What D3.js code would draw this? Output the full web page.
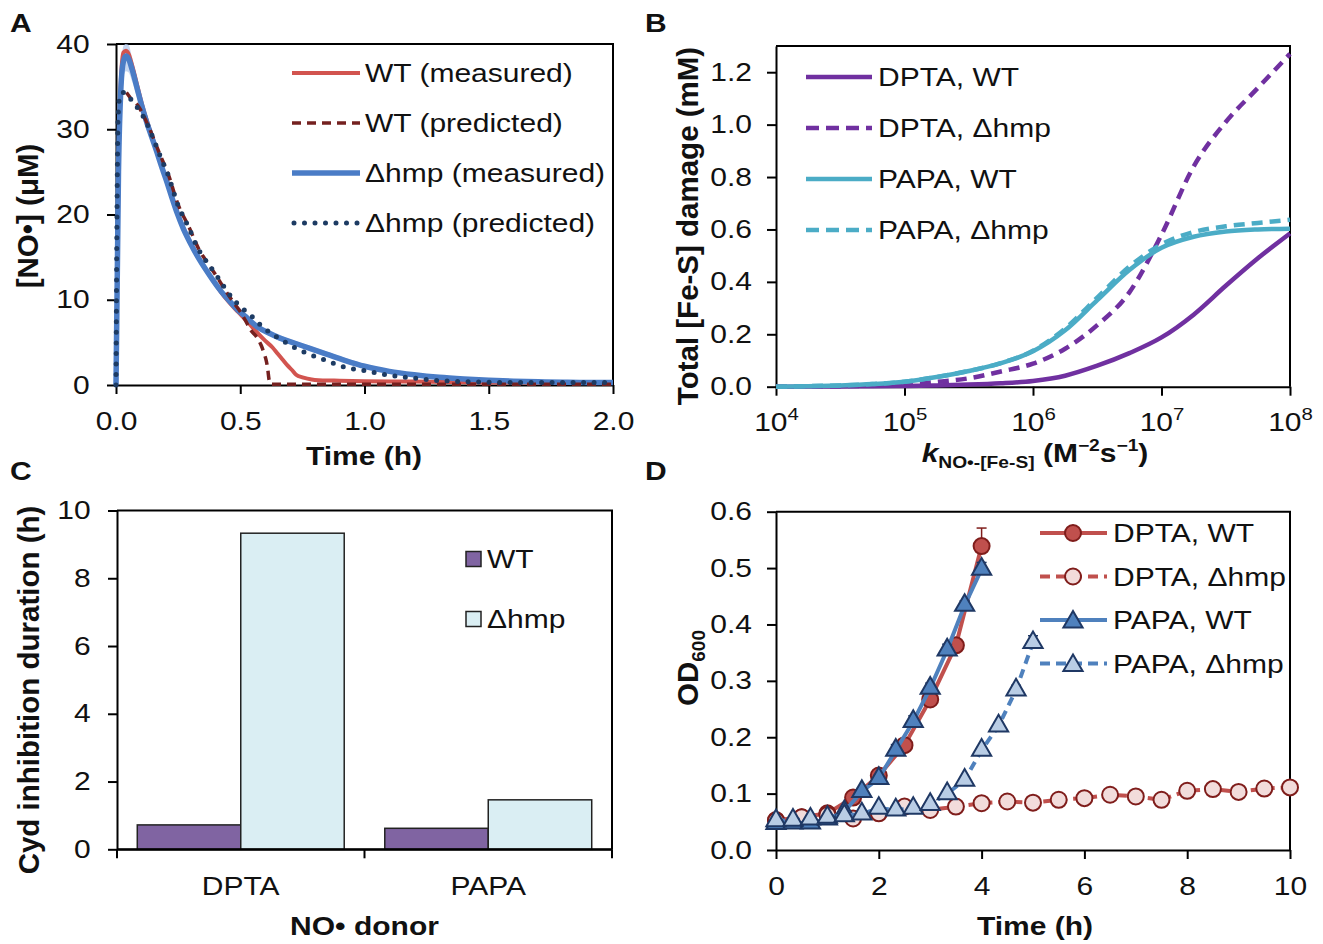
<!DOCTYPE html>
<html><head><meta charset="utf-8">
<script src="https://cdn.jsdelivr.net/npm/d3@7"></script>
<style>body{margin:0;background:#fff} svg{display:block} text{font-family:"Liberation Sans",Arial,Helvetica,sans-serif;}</style>
</head><body><svg id="chart" width="1323" height="944"></svg>
<script>
// ---------- Panel A data ----------
const legendA = ["WT (measured)", "WT (predicted)", "\u0394hmp (measured)", "\u0394hmp (predicted)"];
const ticksAx = [0, 0.5, 1, 1.5, 2];
const ticksAy = [0, 10, 20, 30, 40];
const wtMeasT = [0,0.01,0.02,0.03,0.04,0.05,0.065,0.085,0.105,0.126,0.146,0.166,0.186,0.206,0.226,0.247,0.27,0.3,0.33,0.36,0.39,0.42,0.455,0.49,0.53,0.56,0.6,0.63,0.65,0.67,0.69,0.71,0.725,0.75,0.77,0.8,0.9,1.0,1.2,1.5,2.0];
const wtMeasV = [0,25,36,39,39.2,38.9,37.5,35.2,32.9,30.8,29.1,27.3,25.5,23.8,22,20.2,18.5,16.7,15.1,13.6,12.3,11.0,9.7,8.6,7.4,6.4,5.2,4.4,3.7,3.0,2.3,1.7,1.2,0.9,0.75,0.6,0.5,0.45,0.4,0.3,0.25];
const hmpMeasT = [0,0.01,0.02,0.03,0.04,0.05,0.065,0.085,0.105,0.126,0.146,0.166,0.186,0.206,0.226,0.247,0.27,0.3,0.33,0.36,0.39,0.42,0.455,0.49,0.53,0.57,0.615,0.66,0.72,0.78,0.85,0.92,1.0,1.1,1.2,1.3,1.4,1.5,1.6,1.7,1.8,1.9,2.0];
const hmpMeasV = [0,25,35,38,38.6,38.3,37,34.8,32.6,30.6,28.9,27.2,25.4,23.7,21.9,20.1,18.4,16.6,15,13.6,12.3,11.1,9.9,8.8,7.8,6.8,6.1,5.5,4.9,4.3,3.6,2.9,2.2,1.6,1.2,0.9,0.7,0.55,0.45,0.38,0.33,0.3,0.3];
const hmpMeasErr = [0,1,1.6,1.8,1.8,1.6,1.4,1.1,0.8,0.6,0.5,0.4,0.35,0.3,0.3,0.3,0.3,0.3,0.3,0.3,0.3,0.3,0.3,0.3,0.3,0.3,0.3,0.3,0.3,0.3,0.3,0.3,0.3,0.2,0.2,0.2,0.2,0.2,0.2,0.2,0.2,0.2,0.2];
const wtPredT = [0.042,0.06,0.085,0.133,0.173,0.213,0.247,0.294,0.334,0.374,0.408,0.44,0.47,0.5,0.52,0.542,0.569,0.585,0.596,0.605,0.61,0.616,0.622,0.7,1.0,1.5,2.0];
const wtPredV = [34.3,33.6,32.9,30.2,27.3,24.5,21.4,18.5,15.9,14.1,12.6,11.1,9.8,8.6,7.6,6.45,5.5,4.6,3.7,2.8,2.0,0.6,0.1,0.1,0.1,0.1,0.1];
const hmpPredT = [0,0.004,0.008,0.015,0.03,0.042,0.06,0.079,0.106,0.133,0.153,0.173,0.193,0.213,0.23,0.247,0.27,0.294,0.314,0.334,0.354,0.374,0.408,0.44,0.468,0.509,0.549,0.59,0.632,0.677,0.724,0.77,0.825,0.878,0.93,0.986,1.04,1.09,1.147,1.2,1.26,1.31,1.36,1.45,1.6,2.0];
const hmpPredV = [0,20,31,33.8,34.3,34.2,33.5,32.8,31.7,30.1,28.7,27.2,25.8,24.4,22.8,21.3,19.8,18.4,17.0,15.8,14.9,14.1,12.7,11.3,10.2,9.0,8.0,6.8,5.9,5.1,4.3,3.7,3.1,2.5,2.0,1.76,1.45,1.2,0.98,0.8,0.6,0.5,0.42,0.35,0.3,0.3];

// ---------- Panel B data ----------
const legendB = ["DPTA, WT", "DPTA, \u0394hmp", "PAPA, WT", "PAPA, \u0394hmp"];
const ticksBx = [4, 5, 6, 7, 8];           // exponents of 10
const ticksBy = [0, 0.2, 0.4, 0.6, 0.8, 1.0, 1.2];
const logK = [4,4.25,4.5,4.75,5,5.25,5.5,5.75,6,6.25,6.5,6.75,7,7.25,7.5,7.75,8];
const dptaWtDamage  = [0,0.0005,0.001,0.002,0.003,0.005,0.008,0.013,0.022,0.042,0.08,0.128,0.188,0.275,0.385,0.49,0.585];
const dptaHmpDamage = [0,0.001,0.002,0.004,0.008,0.018,0.032,0.058,0.088,0.145,0.235,0.36,0.58,0.84,1.01,1.14,1.27];
const papaWtDamage  = [0,0.002,0.005,0.01,0.019,0.037,0.06,0.09,0.135,0.215,0.33,0.445,0.53,0.572,0.592,0.6,0.603];
const papaHmpDamage = [0,0.002,0.005,0.01,0.019,0.037,0.06,0.09,0.137,0.222,0.34,0.458,0.543,0.59,0.612,0.625,0.637];

// ---------- Panel C data ----------
const donors = ["DPTA", "PAPA"];
const strains = ["WT", "\u0394hmp"];
const wtDuration = [0.72, 0.62];
const hmpDuration = [9.33, 1.46];
const ticksCy = [0, 2, 4, 6, 8, 10];

// ---------- Panel D data ----------
const legendD = ["DPTA, WT", "DPTA, \u0394hmp", "PAPA, WT", "PAPA, \u0394hmp"];
const ticksDx = [0, 2, 4, 6, 8, 10];
const ticksDy = [0, 0.1, 0.2, 0.3, 0.4, 0.5, 0.6];
const dptaWtT = [0,0.5,1,1.5,2,2.5,3,3.5,4];
const dptaWtOD = [0.053,0.058,0.065,0.093,0.132,0.186,0.267,0.363,0.539];
const dptaWtErr = [0,0,0,0,0.004,0.005,0.004,0.006,0.032];
const dptaHmpT = [0,0.5,1,1.5,2,2.5,3,3.5,4,4.5,5,5.5,6,6.5,7,7.5,8,8.5,9,9.5,10];
const dptaHmpOD = [0.052,0.058,0.062,0.056,0.065,0.077,0.071,0.077,0.083,0.086,0.084,0.089,0.092,0.098,0.095,0.089,0.105,0.108,0.103,0.109,0.111];
const papaWtT = [0,0.33,0.67,1,1.33,1.67,2,2.33,2.67,3,3.33,3.67,4];
const papaWtOD = [0.047,0.048,0.048,0.055,0.068,0.104,0.127,0.177,0.228,0.287,0.355,0.434,0.498];
const papaWtErr = [0,0,0,0,0.004,0.006,0.006,0.01,0.01,0.009,0.01,0.008,0.012];
const papaHmpT = [0,0.33,0.67,1,1.33,1.67,2,2.33,2.67,3,3.33,3.67,4,4.33,4.67,5];
const papaHmpOD = [0.052,0.053,0.055,0.058,0.061,0.064,0.074,0.071,0.074,0.081,0.1,0.124,0.177,0.22,0.284,0.368];
const papaHmpErr = [0,0,0,0,0,0,0,0,0,0,0,0.004,0.005,0.006,0.008,0.012];

// ---------- helpers ----------
const FONT = '"Liberation Sans", Arial, Helvetica, sans-serif';
const SX = 1.2;
const INK = "#111";
const svg = d3.select("#chart");

function label(parent, x, y, str, o = {}) {
  const tf = o.rot ? `translate(${x},${y}) rotate(-90)` : `translate(${x},${y}) scale(${SX},1)`;
  return parent.append("text")
    .attr("transform", tf)
    .attr("text-anchor", o.anchor || "start")
    .attr("font-size", o.size || 25)
    .attr("font-weight", o.bold ? "bold" : "normal")
    .attr("font-family", FONT)
    .attr("fill", INK)
    .text(str);
}
function styleAxis(g) {
  g.select(".domain").attr("stroke", "#000").attr("stroke-width", 2);
  g.selectAll(".tick line").attr("stroke", "#000").attr("stroke-width", 2);
  g.selectAll(".tick text").attr("font-size", 25).attr("font-family", FONT).attr("fill", INK)
    .attr("transform", `scale(${SX},1)`);
}
function frame(x0, x1, y0, y1) {
  svg.append("path").attr("d", `M${x0},${y1}H${x1}V${y0}`)
    .attr("fill", "none").attr("stroke", "#000").attr("stroke-width", 2);
}
const zip = (a, b) => a.map((v, i) => [v, b[i]]);
const ROT = 29.5;

// =================== Panel A ===================
{
  const x = d3.scaleLinear().domain([0, 2]).range([116, 613]);
  const y = d3.scaleLinear().domain([0, 40]).range([385, 44]);
  frame(116, 613, 385, 44);
  const gx = svg.append("g").attr("transform", "translate(0,385)")
    .call(d3.axisBottom(x).tickValues(ticksAx).tickFormat(d3.format(".1f")).tickSize(9).tickSizeOuter(0).tickPadding(18));
  styleAxis(gx);
  const gy = svg.append("g").attr("transform", "translate(116,0)")
    .call(d3.axisLeft(y).tickValues(ticksAy).tickSize(9).tickSizeOuter(0).tickPadding(13));
  styleAxis(gy);

  const line = d3.line().x(d => x(d[0])).y(d => y(d[1])).curve(d3.curveMonotoneX);
  const band = d3.area().x(d => x(d[0])).y0(d => y(d[1] - d[2])).y1(d => y(Math.min(40, d[1] + d[2]))).curve(d3.curveMonotoneX);
  svg.append("path").datum(hmpMeasT.map((t, i) => [t, hmpMeasV[i], hmpMeasErr[i]]))
    .attr("d", band).attr("fill", "#b9cdee").attr("opacity", 0.8);
  const series = [
    { t: wtMeasT, v: wtMeasV, c: "#d2544f", w: 4, dash: null },
    { t: hmpMeasT, v: hmpMeasV, c: "#4a7cc6", w: 5.5, dash: null },
    { t: wtPredT, v: wtPredV, c: "#74201f", w: 3.5, dash: "9,6" },
    { t: hmpPredT, v: hmpPredV, c: "#1d3b63", w: 5, dash: "0,10.5" }
  ];
  series.forEach(s => {
    svg.append("path").datum(zip(s.t, s.v)).attr("d", line)
      .attr("fill", "none").attr("stroke", s.c).attr("stroke-width", s.w)
      .attr("stroke-dasharray", s.dash).attr("stroke-linecap", s.dash && s.dash.startsWith("0") ? "round" : "butt");
  });
  const legS = [series[0], series[2], series[1], series[3]];
  legendA.forEach((name, i) => {
    const yy = 73 + i * 50;
    const s = legS[i];
    svg.append("line").attr("x1", s.dash && s.dash.startsWith("0") ? 294 : 292).attr("x2", 360).attr("y1", yy).attr("y2", yy)
      .attr("stroke", s.c).attr("stroke-width", s.w).attr("stroke-dasharray", s.dash)
      .attr("stroke-linecap", s.dash && s.dash.startsWith("0") ? "round" : "butt");
    label(svg, 365, yy + 9, name);
  });
  label(svg, 364, 465, "Time (h)", { anchor: "middle", bold: true });
  label(svg, 38, 216, "[NO\u2022] (\u03bcM)", { anchor: "middle", bold: true, rot: true, size: ROT });
  label(svg, 10, 32, "A", { bold: true });
}

// =================== Panel B ===================
{
  const x = d3.scaleLog().domain([1e4, 1e8]).range([776, 1290]);
  const y = d3.scaleLinear().domain([0, 1.3]).range([386.7, 46]);
  frame(776, 1290, 386.7, 46);
  const gx = svg.append("g").attr("transform", "translate(0,386.7)")
    .call(d3.axisBottom(x).tickValues(ticksBx.map(e => Math.pow(10, e))).tickFormat(() => "").tickSize(9).tickSizeOuter(0).tickPadding(18));
  styleAxis(gx);
  gx.selectAll(".tick text").each(function (d) {
    const t = d3.select(this);
    t.text(null).attr("text-anchor", "middle");
    t.append("tspan").text("10");
    t.append("tspan").attr("font-size", 17).attr("dy", -11).text(String(Math.round(Math.log10(d))));
  });
  const gy = svg.append("g").attr("transform", "translate(776,0)")
    .call(d3.axisLeft(y).tickValues(ticksBy).tickFormat(d3.format(".1f")).tickSize(9).tickSizeOuter(0).tickPadding(11));
  styleAxis(gy);

  const line = d3.line().x(d => x(Math.pow(10, d[0]))).y(d => y(d[1])).curve(d3.curveMonotoneX);
  const purple = "#7030a0", cyan = "#4bacc6";
  const series = [
    { v: dptaWtDamage, c: purple, dash: null },
    { v: dptaHmpDamage, c: purple, dash: "11,7" },
    { v: papaWtDamage, c: cyan, dash: null },
    { v: papaHmpDamage, c: cyan, dash: "11,7" }
  ];
  [0, 1, 3, 2].forEach(i => {
    const s = series[i];
    svg.append("path").datum(zip(logK, s.v)).attr("d", line)
      .attr("fill", "none").attr("stroke", s.c).attr("stroke-width", 4.5).attr("stroke-dasharray", s.dash);
  });
  legendB.forEach((name, i) => {
    const yy = 77 + i * 51;
    const s = series[i];
    svg.append("line").attr("x1", 806).attr("x2", 872).attr("y1", yy).attr("y2", yy)
      .attr("stroke", s.c).attr("stroke-width", 4.5).attr("stroke-dasharray", s.dash ? "13,7" : null);
    label(svg, 878, yy + 9, name);
  });
  const xt = label(svg, 1035, 462, "", { anchor: "middle", bold: true });
  xt.append("tspan").attr("font-style", "italic").text("k");
  xt.append("tspan").attr("font-size", 16).attr("dy", 6).text("NO\u2022-[Fe-S]");
  xt.append("tspan").attr("dy", -6).text(" (M");
  xt.append("tspan").attr("font-size", 16).attr("dy", -11).text("\u22122");
  xt.append("tspan").attr("dy", 11).text("s");
  xt.append("tspan").attr("font-size", 16).attr("dy", -11).text("\u22121");
  xt.append("tspan").attr("dy", 11).text(")");
  label(svg, 698, 226, "Total [Fe-S] damage (mM)", { anchor: "middle", bold: true, rot: true, size: ROT });
  label(svg, 645, 32, "B", { bold: true });
}

// =================== Panel C ===================
{
  const x = d3.scaleBand().domain(donors).range([117, 612]).paddingInner(0).paddingOuter(0);
  const xs = d3.scaleBand().domain(strains).range([0, x.bandwidth()]).paddingInner(0).paddingOuter(0.196);
  const y = d3.scaleLinear().domain([0, 10]).range([849.3, 510.5]);
  frame(117, 612, 849.3, 510.5);
  const gy = svg.append("g").attr("transform", "translate(117,0)")
    .call(d3.axisLeft(y).tickValues(ticksCy).tickSize(9).tickSizeOuter(0).tickPadding(13));
  styleAxis(gy);
  const gx = svg.append("g").attr("transform", "translate(0,849.3)")
    .call(d3.axisBottom(x).tickSize(0).tickSizeOuter(0).tickPadding(28));
  styleAxis(gx);
  const bounds = donors.map(d => x(d)).concat([x.range()[1]]);
  svg.selectAll("line.cb").data(bounds).join("line").attr("class", "cb")
    .attr("x1", d => d).attr("x2", d => d).attr("y1", 849.3).attr("y2", 858.3)
    .attr("stroke", "#000").attr("stroke-width", 2);
  const fills = { "WT": "#8064a2", "\u0394hmp": "#daeef3" };
  donors.forEach((d, i) => {
    const vals = [wtDuration[i], hmpDuration[i]];
    strains.forEach((s, j) => {
      svg.append("rect").attr("x", x(d) + xs(s)).attr("width", xs.bandwidth())
        .attr("y", y(vals[j])).attr("height", y(0) - y(vals[j]))
        .attr("fill", fills[s]).attr("stroke", "#222").attr("stroke-width", 1.5);
    });
  });
  svg.append("line").attr("x1", 117).attr("x2", 612).attr("y1", 849.3).attr("y2", 849.3).attr("stroke", "#000").attr("stroke-width", 2);
  strains.forEach((s, j) => {
    const yy = 559 + j * 60;
    svg.append("rect").attr("x", 466).attr("y", yy - 7.5).attr("width", 15).attr("height", 15)
      .attr("fill", fills[s]).attr("stroke", "#222").attr("stroke-width", 1.5);
    label(svg, 487, yy + 9, s);
  });
  label(svg, 364.5, 935, "NO\u2022 donor", { anchor: "middle", bold: true });
  label(svg, 39, 690, "Cyd inhibition duration (h)", { anchor: "middle", bold: true, rot: true, size: ROT });
  label(svg, 10, 480, "C", { bold: true });
}

// =================== Panel D ===================
{
  const x = d3.scaleLinear().domain([0, 10]).range([776, 1290]);
  const y = d3.scaleLinear().domain([0, 0.6]).range([850, 511.7]);
  frame(776, 1290, 850, 511.7);
  const gx = svg.append("g").attr("transform", "translate(0,850)")
    .call(d3.axisBottom(x).tickValues(ticksDx).tickSize(9).tickSizeOuter(0).tickPadding(18));
  styleAxis(gx);
  const gy = svg.append("g").attr("transform", "translate(776,0)")
    .call(d3.axisLeft(y).tickValues(ticksDy).tickFormat(d3.format(".1f")).tickSize(9).tickSizeOuter(0).tickPadding(11));
  styleAxis(gy);

  const red = "#c0504d", redDk = "#7f1d1b", blue = "#4f81bd", blueDk = "#1f3864";
  const series = [
    { t: dptaWtT, v: dptaWtOD, e: dptaWtErr, line: red, dash: null, mk: "circle", fill: red, stroke: redDk },
    { t: dptaHmpT, v: dptaHmpOD, e: null, line: red, dash: "9,6", mk: "circle", fill: "#f2dcdb", stroke: redDk },
    { t: papaWtT, v: papaWtOD, e: papaWtErr, line: blue, dash: null, mk: "tri", fill: blue, stroke: blueDk },
    { t: papaHmpT, v: papaHmpOD, e: papaHmpErr, line: blue, dash: "9,6", mk: "tri", fill: "#b9cde5", stroke: blueDk }
  ];
  const line = d3.line().x(d => x(d[0])).y(d => y(d[1]));
  const tri = d3.symbol(d3.symbolTriangle, 160)();
  function marker(g, s, cx, cy) {
    if (s.mk === "circle") {
      g.append("circle").attr("cx", cx).attr("cy", cy).attr("r", 8)
        .attr("fill", s.fill).attr("stroke", s.stroke).attr("stroke-width", 2);
    } else {
      g.append("path").attr("d", tri).attr("transform", `translate(${cx},${cy})`)
        .attr("fill", s.fill).attr("stroke", s.stroke).attr("stroke-width", 2);
    }
  }
  series.forEach(s => {
    const g = svg.append("g");
    if (s.e) {
      s.t.forEach((t, i) => {
        if (s.e[i] > 0) {
          const x0 = x(t), y0 = y(s.v[i]), y1 = y(s.v[i] + s.e[i]);
          g.append("line").attr("x1", x0).attr("x2", x0).attr("y1", y0).attr("y2", y1).attr("stroke", s.stroke).attr("stroke-width", 1.5);
          g.append("line").attr("x1", x0 - 5).attr("x2", x0 + 5).attr("y1", y1).attr("y2", y1).attr("stroke", s.stroke).attr("stroke-width", 1.5);
        }
      });
    }
    g.append("path").datum(zip(s.t, s.v)).attr("d", line).attr("fill", "none")
      .attr("stroke", s.line).attr("stroke-width", 4).attr("stroke-dasharray", s.dash);
    s.t.forEach((t, i) => marker(g, s, x(t), y(s.v[i])));
  });
  legendD.forEach((name, i) => {
    const yy = 533 + i * 43.5;
    const s = series[i];
    svg.append("line").attr("x1", 1040).attr("x2", 1107).attr("y1", yy).attr("y2", yy)
      .attr("stroke", s.line).attr("stroke-width", 4).attr("stroke-dasharray", s.dash ? "10,6" : null);
    marker(svg, s, 1073, yy + (s.mk === "tri" ? 2 : 0));
    label(svg, 1113, yy + 9, name);
  });
  label(svg, 1035, 935, "Time (h)", { anchor: "middle", bold: true });
  const yt = label(svg, 698, 668, "", { anchor: "middle", bold: true, rot: true, size: ROT });
  yt.append("tspan").text("OD");
  yt.append("tspan").attr("font-size", 19).attr("dy", 7).text("600");
  label(svg, 645, 480, "D", { bold: true });
}
</script>
</body></html>
